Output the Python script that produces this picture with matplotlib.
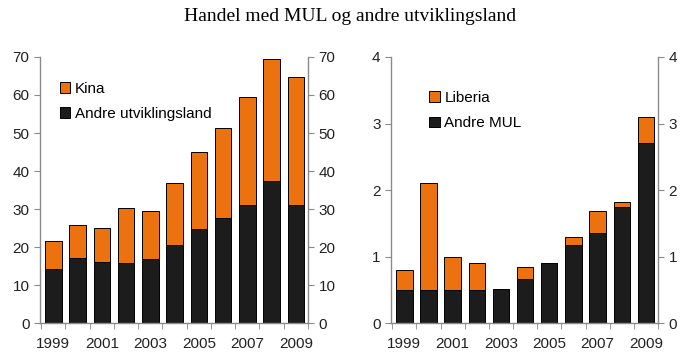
import numpy as np
import matplotlib
matplotlib.use("Agg")
import matplotlib.pyplot as plt

#==Data==#
years = [1999, 2000, 2001, 2002, 2003, 2004, 2005, 2006, 2007, 2008, 2009]
year_labels = ["1999", "", "2001", "", "2003", "", "2005", "", "2007", "", "2009"]

andre_utv = [14.3, 17.2, 16.1, 15.8, 17.0, 20.6, 24.9, 27.7, 31.1, 37.4, 31.2]
kina = [7.2, 8.7, 8.9, 14.6, 12.4, 16.2, 20.0, 23.6, 28.4, 32.1, 33.4]

andre_mul = [0.5, 0.5, 0.5, 0.5, 0.51, 0.665, 0.9, 1.175, 1.36, 1.75, 2.7]
liberia = [0.3, 1.6, 0.5, 0.4, 0.0, 0.175, 0.0, 0.115, 0.33, 0.075, 0.4]

orange = "#EC7210"
dark = "#1c1c1c"
grey = "#8a8a8a"

plt.rcParams['font.family'] = ['Liberation Sans', 'DejaVu Sans']

fig = plt.figure(figsize=(7, 3.58), dpi=100)
fig.text(0.5, 0.955, "Handel med MUL og andre utviklingsland", ha='center', va='center',
         fontsize=14, family='Liberation Serif')

ax1 = fig.add_axes([40 / 700, 0.097, 268 / 700, 0.744])
ax2 = fig.add_axes([391 / 700, 0.097, 267 / 700, 0.744])


def draw(ax, bottom, top, lab_bottom, lab_top, ymax, yticks, legx, legy):
    x = np.arange(len(years))
    ax.bar(x, bottom, width=0.68, color=dark, edgecolor='black', linewidth=0.7, label=lab_bottom)
    ax.bar(x, top, bottom=bottom, width=0.68, color=orange, edgecolor='black', linewidth=0.7,
           label=lab_top)
    ax.set_xlim(-0.55, 10.5)
    ax.set_ylim(0, ymax)
    ax.set_yticks(yticks)
    ax.set_xticks(x)
    ax.set_xticklabels(year_labels)
    ax.set_xticks(np.arange(-0.5, 11, 1), minor=True)
    ax.tick_params(axis='x', which='major', length=0, labelsize=11, pad=10, colors='#222222')
    ax.tick_params(axis='x', which='minor', length=4, direction='out', color=grey)
    ax.tick_params(axis='y', left=True, right=True, labelleft=True, labelright=True,
                   direction='out', length=4, color=grey, labelsize=11, labelcolor='#222222')
    ax.spines['top'].set_visible(False)
    for s in ['left', 'right', 'bottom']:
        ax.spines[s].set_color(grey)
        ax.spines[s].set_linewidth(1.0)
    handles, labels = ax.get_legend_handles_labels()
    ax.legend(handles[::-1], labels[::-1], loc='upper left', bbox_to_anchor=(legx, legy),
              frameon=False, fontsize=11, handlelength=0.7, handleheight=0.7,
              handletextpad=0.3, labelspacing=0.75, borderaxespad=0)


draw(ax1, andre_utv, kina, "Andre utviklingsland", "Kina", 70, range(0, 71, 10), 0.05, 0.93)
draw(ax2, andre_mul, liberia, "Andre MUL", "Liberia", 4, range(0, 5), 0.12, 0.895)

fig.savefig("out.png", dpi=100)
